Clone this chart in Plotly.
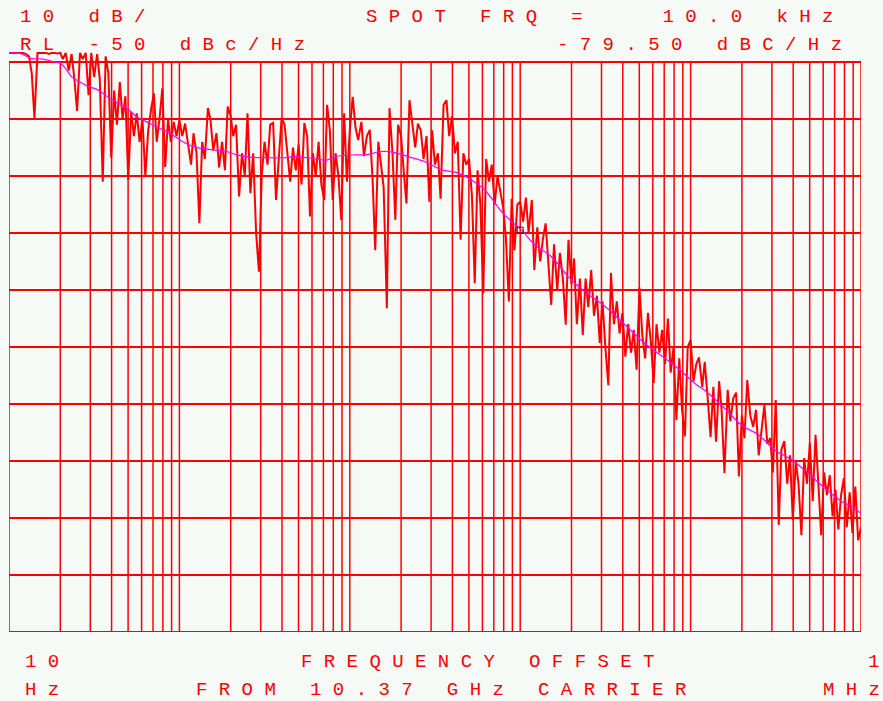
import plotly.graph_objects as go

# sweep points inside one decade, as multiples of the decade start frequency
decade_mantissa = [1.00, 1.04, 1.08, 1.12, 1.17, 1.21, 1.26, 1.31, 1.36, 1.41,
                   1.47, 1.52, 1.58, 1.65, 1.71, 1.78, 1.85, 1.92, 2.00, 2.07,
                   2.15, 2.24, 2.33, 2.42, 2.51, 2.61, 2.71, 2.82, 2.93, 3.04,
                   3.16, 3.29, 3.41, 3.55, 3.69, 3.83, 3.98, 4.14, 4.30, 4.47,
                   4.64, 4.82, 5.01, 5.21, 5.41, 5.62, 5.84, 6.07, 6.31, 6.56,
                   6.81, 7.08, 7.36, 7.64, 7.94, 8.25, 8.58, 8.91, 9.26, 9.62]
decade_start_hz = [10, 100, 1000, 10000, 100000]
stop_hz = 1000000

# measured L(f) in dBc/Hz, one list per decade of offset
noise_10_100 = [-48.4, -48.4, -48.4, -48.4, -48.4, -48.4, -48.6, -49.0, -52.0, -59.8,
                -48.4, -48.4, -48.5, -48.4, -48.6, -48.4, -48.4, -48.5, -48.4, -49.5,
                -48.4, -51.5, -48.6, -53.0, -58.6, -48.4, -49.5, -48.4, -55.8, -48.4,
                -52.6, -48.6, -53.0, -71.0, -49.0, -52.0, -66.8, -55.0, -61.0, -53.5,
                -60.0, -56.0, -70.7, -58.7, -63.0, -59.0, -64.0, -60.0, -70.1, -62.0,
                -58.4, -55.5, -64.0, -60.0, -54.6, -68.4, -60.0, -64.0, -60.5, -63.0]
noise_100_1k = [-60.2, -63.0, -60.8, -64.0, -68.0, -62.5, -66.0, -78.3, -64.0, -67.0,
                -58.1, -60.0, -65.5, -62.5, -68.5, -64.0, -69.0, -57.8, -59.5, -63.0,
                -61.0, -73.6, -66.0, -70.0, -59.0, -73.0, -66.0, -80.0, -86.8, -70.0,
                -64.0, -68.0, -61.0, -60.7, -74.2, -67.0, -59.8, -61.0, -66.0, -71.0,
                -65.0, -69.0, -64.5, -71.5, -60.7, -63.0, -77.1, -66.0, -70.0, -64.0,
                -71.5, -74.2, -57.5, -62.0, -74.2, -66.0, -70.0, -77.7, -59.0, -71.0]
noise_1k_10k = [-62.0, -56.1, -61.5, -63.7, -60.5, -66.5, -63.0, -61.9, -70.5, -83.0,
                -64.0, -67.5, -72.0, -93.2, -58.1, -66.0, -77.7, -61.0, -63.0, -69.0,
                -74.8, -56.7, -61.0, -65.0, -60.8, -62.0, -67.0, -63.0, -74.5, -62.0,
                -68.0, -66.0, -74.0, -57.5, -56.7, -63.0, -59.5, -66.0, -64.0, -81.2,
                -66.0, -68.0, -67.0, -73.5, -88.8, -69.0, -75.0, -90.6, -67.0, -71.0,
                -68.0, -75.0, -70.0, -73.0, -75.5, -81.0, -92.0, -74.0, -83.0, -75.0]
noise_10k_100k = [-74.5, -78.0, -73.8, -80.0, -74.2, -86.5, -79.0, -85.0, -81.0, -78.3,
                  -87.0, -92.6, -82.0, -90.0, -83.5, -88.0, -96.1, -81.2, -89.0, -84.5,
                  -96.0, -88.0, -97.9, -88.0, -93.0, -86.5, -94.5, -91.0, -99.3, -92.0,
                  -100.0, -106.7, -87.0, -96.0, -92.0, -97.6, -94.0, -101.7, -96.0, -101.0,
                  -97.0, -104.0, -89.6, -98.0, -102.0, -94.0, -99.0, -106.3, -96.0, -101.0,
                  -97.0, -103.0, -95.0, -104.5, -100.0, -112.8, -102.0, -111.0, -115.7, -100.0]
noise_100k_1m = [-98.8, -106.0, -103.0, -101.8, -107.0, -102.6, -109.0, -115.8, -107.0, -116.6,
                 -106.0, -111.0, -122.1, -107.5, -113.0, -109.0, -108.0, -122.7, -112.0, -116.0,
                 -105.8, -112.0, -114.0, -111.0, -119.0, -114.0, -110.2, -117.0, -116.0, -122.0,
                 -109.3, -131.2, -118.0, -116.5, -124.0, -119.0, -130.4, -120.0, -124.0, -133.0,
                 -119.5, -124.0, -116.8, -127.0, -115.4, -124.0, -133.0, -122.0, -126.0, -122.5,
                 -129.7, -125.0, -132.0, -126.0, -123.0, -131.6, -125.5, -132.6, -124.5, -133.9]
noise_at_stop = -131.6

# smoothed curve drawn over the raw sweep
smooth_hz = [10, 11.6, 13.6, 15.8, 18.6, 20, 21.8, 23.3, 26.1, 29.2,
             32.7, 35.6, 39.1, 43.6, 49.1, 56.2, 64.3, 73.6, 88.1, 101,
             115, 132, 157, 190, 217, 260, 325, 407, 488, 569,
             732, 819, 1070, 1230, 1540, 1840, 2200, 2760, 3460, 4330,
             5190, 6220, 7790, 8910, 10200, 12200, 15300, 19200, 24000, 31500,
             41200, 54000, 70800, 88700, 106000, 127000, 159000, 199000, 250000, 313000,
             392000, 491000, 615000, 770000, 882000, 1000000]
smooth_dbc = [-48.4, -48.5, -49.4, -49.5, -50.0, -50.2, -51.4, -52.6, -53.5, -54.3,
              -54.8, -55.5, -56.4, -57.2, -58.1, -59.6, -60.5, -61.4, -62.5, -63.7,
              -64.6, -65.1, -65.4, -65.7, -66.3, -66.7, -66.8, -66.8, -66.6, -66.8,
              -67.2, -66.6, -66.3, -66.3, -65.7, -65.9, -66.6, -67.5, -68.9, -69.5,
              -70.7, -72.5, -76.3, -78.0, -79.5, -82.1, -84.2, -87.7, -90.3, -92.9,
              -96.1, -99.4, -102.0, -104.3, -106.4, -108.1, -110.8, -113.7, -115.4, -118.1,
              -119.8, -122.2, -124.8, -127.1, -128.0, -129.2]

spot_hz = 10000
spot_dbc = -79.50
ref_level = -50
db_per_div = 10
n_div = 10

RED = "#ff0000"
BG = "#f6faf6"
FONT = "Liberation Mono"

# page geometry of the plot box
L, T, W, H = 9, 50, 852, 582


def px(x):
    return (x - L) / W


def py(y):
    return (T + H - y) / H


def spaced(s):
    # plotter style lettering: one blank between every character
    return "\u00a0".join(s.replace(" ", "\u00a0"))


noise_hz, noise_dbc = [], []
decades = [noise_10_100, noise_100_1k, noise_1k_10k, noise_10k_100k, noise_100k_1m]
for start, vals in zip(decade_start_hz, decades):
    for m, v in zip(decade_mantissa, vals):
        noise_hz.append(m * start)
        noise_dbc.append(v)
noise_hz.append(stop_hz)
noise_dbc.append(noise_at_stop)

bottom = ref_level - db_per_div * n_div
vx, vy = [], []
for start in decade_start_hz:
    for m in range(1, 10):
        vx += [start * m, start * m, None]
        vy += [bottom, ref_level, None]
vx += [stop_hz, stop_hz, None]
vy += [bottom, ref_level, None]

hx, hy = [], []
for i in range(n_div + 1):
    level = ref_level - i * db_per_div
    hx += [decade_start_hz[0], stop_hz, None]
    hy += [level, level, None]

fig = go.Figure()
fig.add_trace(go.Scatter(x=vx, y=vy, mode="lines", line=dict(color=RED, width=1.5),
                         hoverinfo="skip"))
fig.add_trace(go.Scatter(x=hx, y=hy, mode="lines", line=dict(color=RED, width=2),
                         hoverinfo="skip"))
fig.add_trace(go.Scatter(x=noise_hz, y=noise_dbc, mode="lines",
                         line=dict(color=RED, width=2)))
fig.add_trace(go.Scatter(x=smooth_hz, y=smooth_dbc, mode="lines",
                         line=dict(color="#ff00ff", width=1.2, shape="spline")))
fig.add_trace(go.Scatter(x=[spot_hz], y=[spot_dbc], mode="markers",
                         marker=dict(symbol="square-open", size=6,
                                     color="#222222", line=dict(width=1))))

labels = [
    ("10 dB/", 18.5, 17.5),
    ("SPOT FRQ =   10.0 kHz", 365, 17.5),
    ("RL -50 dBc/Hz", 18.5, 44.7),
    ("-79.50 dBC/Hz", 556, 44.7),
    ("10", 24, 661.7),
    ("FREQUENCY OFFSET", 300, 661.7),
    ("1", 867, 661.7),
    ("Hz", 24, 690.3),
    ("FROM 10.37 GHz CARRIER", 195, 690.3),
    ("MHz", 822, 690.3),
]
for text, x, y in labels:
    fig.add_annotation(text=spaced(text), x=px(x), y=py(y), xref="paper", yref="paper",
                       xanchor="left", yanchor="middle", showarrow=False,
                       font=dict(family=FONT, size=19, color=RED), borderpad=0)

fig.update_layout(
    width=883,
    height=701,
    margin=dict(l=L, r=883 - L - W, t=T, b=701 - T - H),
    paper_bgcolor=BG,
    plot_bgcolor=BG,
    showlegend=False,
    hovermode=False,
    xaxis=dict(type="log", range=[1, 6], visible=False),
    yaxis=dict(range=[bottom, bottom + H / 5.7], visible=False),
)

fig.write_html("out.html", config={"displayModeBar": False},
               post_script="document.body.style.margin = '0';")
